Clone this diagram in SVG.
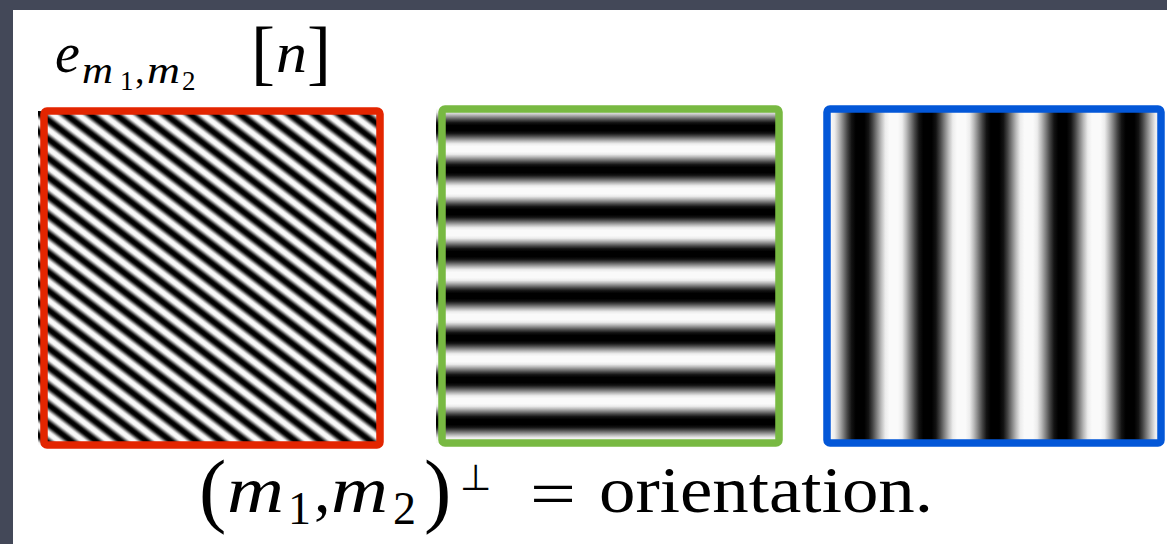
<svg xmlns="http://www.w3.org/2000/svg" width="1167" height="544" viewBox="0 0 1167 544">
  <style>
    .frame { fill: none; stroke-width: 7.5; stroke-linejoin: round; }
    .math { font-family: "Liberation Serif", "DejaVu Serif", serif; fill: #000; }
    .it { font-style: italic; }
  </style>
  <defs>
    <linearGradient id="diag" gradientUnits="userSpaceOnUse" spreadMethod="repeat" x1="48" y1="120" x2="57.14" y2="107.98">
      <stop offset="0" stop-color="#000"/>
      <stop offset="0.0625" stop-color="#000"/>
      <stop offset="0.125" stop-color="#131313"/>
      <stop offset="0.1875" stop-color="#454545"/>
      <stop offset="0.25" stop-color="#808080"/>
      <stop offset="0.3125" stop-color="#bababa"/>
      <stop offset="0.375" stop-color="#ececec"/>
      <stop offset="0.4375" stop-color="#fafafa"/>
      <stop offset="0.5" stop-color="#fafafa"/>
      <stop offset="0.5625" stop-color="#fafafa"/>
      <stop offset="0.625" stop-color="#ececec"/>
      <stop offset="0.6875" stop-color="#bababa"/>
      <stop offset="0.75" stop-color="#808080"/>
      <stop offset="0.8125" stop-color="#454545"/>
      <stop offset="0.875" stop-color="#131313"/>
      <stop offset="0.9375" stop-color="#000"/>
      <stop offset="1" stop-color="#000"/>
    </linearGradient>
    <linearGradient id="horiz" href="#diag" gradientUnits="userSpaceOnUse" spreadMethod="repeat" x1="0" y1="128" x2="0" y2="170"/>
    <linearGradient id="vert" href="#diag" gradientUnits="userSpaceOnUse" spreadMethod="repeat" x1="860" y1="0" x2="927.5" y2="0"/>
  </defs>

  <!-- slide background -->
  <rect x="0" y="0" width="1167" height="544" fill="#434858"/>
  <rect x="13" y="10" width="1154" height="534" fill="#ffffff"/>

  <g id="label-top">
    <text class="math it" x="55" y="72" font-size="56">e</text>
    <text class="math it" x="82" y="83" font-size="38" textLength="31" lengthAdjust="spacingAndGlyphs">m</text>
    <text class="math" x="120" y="90" font-size="27">1</text>
    <text class="math" x="135" y="83" font-size="38">,</text>
    <text class="math it" x="147" y="83" font-size="38" textLength="33" lengthAdjust="spacingAndGlyphs">m</text>
    <text class="math" x="182" y="90" font-size="27">2</text>
    <text class="math" x="251" y="76" font-size="72">[</text>
    <text class="math it" x="276" y="72" font-size="56" textLength="31" lengthAdjust="spacingAndGlyphs">n</text>
    <text class="math" x="307" y="76" font-size="72">]</text>
  </g>

  <g id="panel-diagonal">
    <rect x="38" y="111" width="342" height="334" fill="url(#diag)"/>
    <rect class="frame" x="44" y="111" width="336" height="334" rx="3" stroke="#e32500"/>
  </g>

  <g id="panel-horizontal">
    <rect x="436" y="109" width="343" height="334" fill="url(#horiz)"/>
    <rect class="frame" x="442" y="109" width="337" height="334" rx="3" stroke="#78b942"/>
  </g>

  <g id="panel-vertical">
    <rect x="827" y="109" width="334" height="334" fill="url(#vert)"/>
    <rect class="frame" x="827" y="109" width="334" height="334" rx="3" stroke="#0357d8"/>
  </g>

  <g id="label-bottom">
    <text class="math" x="199" y="517" font-size="82">(</text>
    <text class="math it" x="227" y="512" font-size="66" textLength="57" lengthAdjust="spacingAndGlyphs">m</text>
    <text class="math" x="288" y="524" font-size="46">1</text>
    <text class="math" x="314" y="512" font-size="66">,</text>
    <text class="math it" x="331" y="512" font-size="66" textLength="57" lengthAdjust="spacingAndGlyphs">m</text>
    <text class="math" x="393" y="524" font-size="46">2</text>
    <text class="math" x="424" y="517" font-size="82">)</text>
    <text x="460" y="490" font-size="36" font-family="DejaVu Sans, sans-serif" fill="#000">⊥</text>
    <text class="math" x="530" y="516" font-size="66" textLength="46" lengthAdjust="spacingAndGlyphs">=</text>
    <text class="math" x="599" y="512" font-size="66" textLength="334" lengthAdjust="spacingAndGlyphs">orientation.</text>
  </g>
</svg>
